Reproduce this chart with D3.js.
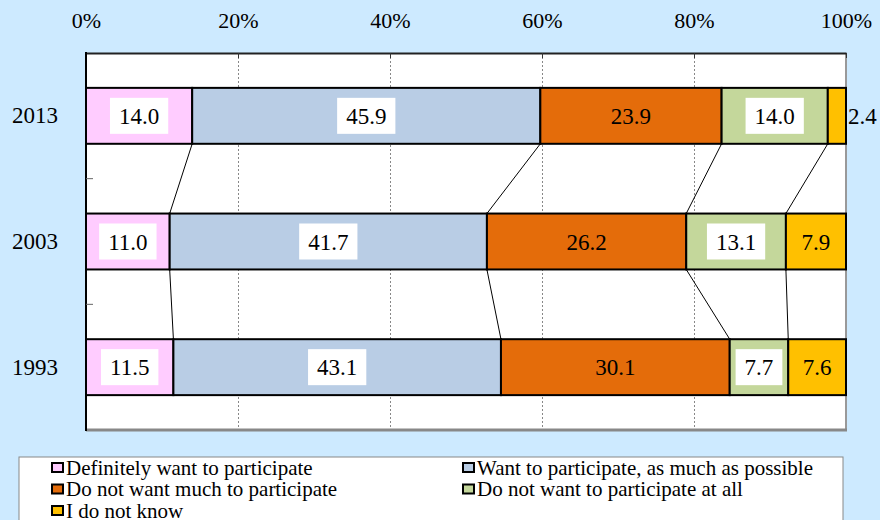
<!DOCTYPE html>
<meta charset="utf-8">
<style>
  body { margin: 0; background: #cdeaff; }
  .grid line { stroke: #888; stroke-dasharray: 2,2; }
  .grid path { display: none; }
</style>
<body>
<script src="https://d3js.org/d3.v7.min.js"></script>
<script>

var width = 880,
    height = 520,
    font = "Liberation Serif";

// survey years, top to bottom
var years = ["2013", "2003", "1993"];

// answer categories (stack order, left to right)
var answers = [
  "Definitely want to participate",
  "Want to participate, as much as possible",
  "Do not want much to participate",
  "Do not want to participate at all",
  "I do not know"
];

// percentages per year, same order as answers
var values2013 = [14.0, 45.9, 23.9, 14.0, 2.4];
var values2003 = [11.0, 41.7, 26.2, 13.1, 7.9];
var values1993 = [11.5, 43.1, 30.1, 7.7, 7.6];

var tickValues = [0, 0.2, 0.4, 0.6, 0.8, 1];
var tickLabels = ["0%", "20%", "40%", "60%", "80%", "100%"];

var colors = ["#ffccff", "#b9cde5", "#e46c0a", "#c4d79b", "#ffc000"];
var boxed = [true, true, false, true, false];

var rows = [values2013, values2003, values1993].map(function(v, i) {
  var r = { year: years[i] };
  v.forEach(function(d, j) { r["k" + j] = d; });
  return r;
});
var keys = answers.map(function(d, j) { return "k" + j; });

// 100% stacked
var stacked = d3.stack().keys(keys).offset(d3.stackOffsetExpand)(rows);

var svg = d3.select("body").append("svg")
    .attr("width", width)
    .attr("height", height)
    .attr("font-family", font)
    .style("display", "block");

var plot = { left: 86, right: 846, top: 53, bottom: 430 };

var x = d3.scaleLinear().domain([0, 1]).range([plot.left, plot.right]);
var y = d3.scaleBand().domain(years).range([plot.top, plot.bottom])
    .paddingInner(0.555).paddingOuter(0.2775);
var step = y.step();

// plot background
svg.append("rect")
    .attr("x", plot.left).attr("y", plot.top)
    .attr("width", plot.right - plot.left).attr("height", plot.bottom - plot.top)
    .attr("fill", "#fff");

// dotted gridlines
svg.append("g").attr("class", "grid")
    .attr("transform", "translate(0," + plot.top + ")")
    .call(d3.axisBottom(x).tickValues([0.2, 0.4, 0.6, 0.8])
      .tickSize(plot.bottom - plot.top).tickFormat(""));

// frame
svg.append("line").attr("x1", plot.right).attr("x2", plot.right)
    .attr("y1", plot.top).attr("y2", plot.bottom)
    .attr("stroke", "#999").attr("stroke-width", 2);
svg.append("line").attr("x1", plot.left).attr("x2", plot.right + 1)
    .attr("y1", plot.bottom).attr("y2", plot.bottom)
    .attr("stroke", "#888").attr("stroke-width", 3);

// top axis
var xAxis = svg.append("g")
    .attr("transform", "translate(0," + plot.top + ")")
    .call(d3.axisTop(x).tickValues(tickValues).tickSizeInner(-5).tickSizeOuter(0).tickPadding(25)
      .tickFormat(function(d, i) { return tickLabels[i]; }));
xAxis.attr("font-family", font);
xAxis.select(".domain").attr("stroke", "#222").attr("stroke-width", 2);
xAxis.selectAll(".tick line").attr("stroke", "#333");
xAxis.selectAll("text").attr("font-size", 22).attr("font-family", font).attr("fill", "#000");

// left axis
var yAxis = svg.append("g")
    .attr("transform", "translate(" + plot.left + ",0)")
    .call(d3.axisLeft(y).tickSize(0).tickPadding(28));
yAxis.attr("font-family", font);
yAxis.select(".domain").remove();
yAxis.selectAll("text").attr("font-size", 23).attr("font-family", font).attr("fill", "#000");
svg.append("line").attr("x1", plot.left).attr("x2", plot.left)
    .attr("y1", plot.top - 1).attr("y2", plot.bottom + 1)
    .attr("stroke", "#000").attr("stroke-width", 2);

// small ticks at band boundaries
svg.selectAll(".btick").data(years.slice(1))
  .enter().append("line")
    .attr("x1", plot.left).attr("x2", plot.left + 7)
    .attr("y1", function(d) { return y(d) - (step - y.bandwidth()) / 2; })
    .attr("y2", function(d) { return y(d) - (step - y.bandwidth()) / 2; })
    .attr("stroke", "#666").attr("stroke-width", 1);

// connector lines between years
for (var r = 0; r < years.length - 1; r++) {
  for (var s = 0; s < keys.length - 1; s++) {
    svg.append("line")
      .attr("x1", x(stacked[s][r][1]))
      .attr("y1", y(years[r]) + y.bandwidth())
      .attr("x2", x(stacked[s][r + 1][1]))
      .attr("y2", y(years[r + 1]))
      .attr("stroke", "#000").attr("stroke-width", 1);
  }
}

// bars
var layer = svg.selectAll(".layer").data(stacked)
  .enter().append("g").attr("fill", function(d, i) { return colors[i]; });

layer.selectAll("rect").data(function(d) { return d; })
  .enter().append("rect")
    .attr("x", function(d) { return x(d[0]); })
    .attr("y", function(d) { return y(d.data.year); })
    .attr("width", function(d) { return x(d[1]) - x(d[0]); })
    .attr("height", y.bandwidth())
    .attr("stroke", "#000").attr("stroke-width", 2);

// value labels
stacked.forEach(function(series, i) {
  series.forEach(function(d) {
    var v = d.data["k" + i];
    var x0 = x(d[0]), x1 = x(d[1]);
    var cy = y(d.data.year) + y.bandwidth() / 2;
    var g = svg.append("g");
    var t = g.append("text")
      .attr("font-family", font)
      .attr("font-size", 23)
      .attr("dy", "0.35em")
      .text(v.toFixed(1));
    var tw = t.node().getComputedTextLength();
    if (tw > x1 - x0) {
      // too narrow, put it beside the bar
      t.attr("x", x1 + 2).attr("y", cy);
    } else {
      t.attr("x", (x0 + x1) / 2).attr("y", cy).attr("text-anchor", "middle");
      if (boxed[i]) {
        g.insert("rect", "text")
          .attr("x", (x0 + x1) / 2 - tw / 2 - 9)
          .attr("y", cy - 18)
          .attr("width", tw + 18)
          .attr("height", 36)
          .attr("fill", "#fff");
      }
    }
  });
});

// legend
svg.append("rect")
    .attr("x", 19).attr("y", 457).attr("width", 824).attr("height", 80)
    .attr("fill", "#fff").attr("stroke", "#888").attr("stroke-width", 1);

var legend = svg.selectAll(".leg").data(answers)
  .enter().append("g")
    .attr("transform", function(d, i) {
      return "translate(" + (i % 2 ? 462 : 51) + "," + (468 + Math.floor(i / 2) * 21.5) + ")";
    });
legend.append("rect")
    .attr("x", 1).attr("y", -5).attr("width", 11).attr("height", 9)
    .attr("fill", function(d, i) { return colors[i]; })
    .attr("stroke", "#000").attr("stroke-width", 2);
legend.append("text")
    .attr("x", 15).attr("dy", "0.33em")
    .attr("font-family", font)
    .attr("font-size", 21)
    .text(function(d) { return d; });

</script>
</body>
